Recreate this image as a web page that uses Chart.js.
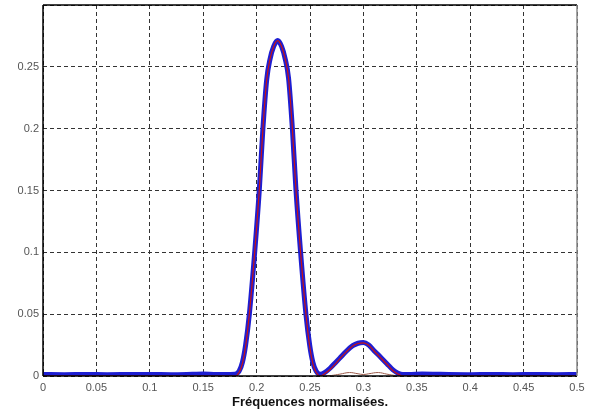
<!DOCTYPE html>
<html>
<head>
<meta charset="utf-8">
<script src="https://cdn.jsdelivr.net/npm/chart.js@4/dist/chart.umd.min.js"></script>
<style>
  html, body { margin: 0; padding: 0; background: #fff; }
  #wrap { width: 592px; height: 412px; }
</style>
</head>
<body>
<div id="wrap"><canvas id="spectre"></canvas></div>
<script>
// ------ DONNEES ------
const freq = [
  0, 0.02, 0.04, 0.06, 0.08, 0.10, 0.12, 0.14, 0.15, 0.16, 0.17, 0.1797,
  0.1837, 0.1867, 0.1897, 0.1932, 0.1982, 0.2025, 0.2059, 0.2095, 0.2125, 0.2160, 0.2197,
  0.2234, 0.2269, 0.2299, 0.2335, 0.2369, 0.2412, 0.2462, 0.2497, 0.2527, 0.2557, 0.2595,
  0.264, 0.269, 0.274, 0.278, 0.284, 0.290, 0.295, 0.300, 0.305, 0.310, 0.3155,
  0.322, 0.3277, 0.332, 0.337, 0.345, 0.355, 0.365, 0.38, 0.40, 0.42, 0.44, 0.46, 0.48, 0.5
];
const estime = [
  0.0012, 0.0011, 0.0013, 0.0011, 0.0012, 0.0013, 0.0011, 0.0014, 0.0016, 0.0013, 0.0012, 0.0014,
  0.004, 0.011, 0.025, 0.05, 0.10, 0.15, 0.20, 0.240, 0.256, 0.2665, 0.2712,
  0.2665, 0.256, 0.241, 0.20, 0.15, 0.10, 0.05, 0.025, 0.011, 0.004, 0.0015,
  0.003, 0.0065, 0.011, 0.0146, 0.020, 0.0245, 0.0265, 0.027, 0.025, 0.0205, 0.0157,
  0.010, 0.0049, 0.0025, 0.0012, 0.0013, 0.0016, 0.0015, 0.0012, 0.0011, 0.0012, 0.0011, 0.0012, 0.0011, 0.0012
];
const reel = [
  0, 0, 0, 0, 0, 0, 0, 0, 0, 0, 0, 0,
  0.003, 0.010, 0.024, 0.05, 0.10, 0.15, 0.20, 0.240, 0.256, 0.2665, 0.2712,
  0.2665, 0.256, 0.241, 0.20, 0.15, 0.10, 0.05, 0.024, 0.010, 0.003, 0,
  0.002, 0.0055, 0.010, 0.0140, 0.0195, 0.0242, 0.0263, 0.0268, 0.0248, 0.0202, 0.0153,
  0.0095, 0.0043, 0.0018, 0, 0, 0, 0, 0, 0, 0, 0, 0, 0, 0
];
const freqBruit = [0.262, 0.270, 0.278, 0.287, 0.295, 0.300, 0.305, 0.314, 0.322, 0.330, 0.338];
const bruit     = [0, 0.0004, 0.0015, 0.0028, 0.0018, 0.0012, 0.0018, 0.0028, 0.0015, 0.0004, 0];
const yTicks = [0, 0.05, 0.1, 0.15, 0.2, 0.25];
const xTicks = [0, 0.05, 0.1, 0.15, 0.2, 0.25, 0.3, 0.35, 0.4, 0.45, 0.5];

const pts = (xs, ys) => xs.map((x, i) => ({ x, y: ys[i] }));

// cadre autour de la zone de tracé
const cadre = {
  id: 'cadre',
  afterDraw(chart) {
    const { ctx, chartArea: a } = chart;
    ctx.save();
    ctx.strokeStyle = '#000';
    ctx.lineWidth = 1.5;
    ctx.beginPath();
    ctx.moveTo(a.left, a.top); ctx.lineTo(a.right, a.top);
    ctx.moveTo(a.left, a.top); ctx.lineTo(a.left, a.bottom);
    ctx.moveTo(a.left, a.bottom); ctx.lineTo(a.right, a.bottom);
    ctx.stroke();
    ctx.strokeStyle = '#888';
    ctx.beginPath();
    ctx.moveTo(a.right, a.top); ctx.lineTo(a.right, a.bottom);
    ctx.stroke();
    ctx.restore();
  }
};

const tickFont = { family: 'Arial, "Liberation Sans", sans-serif', size: 11 };

new Chart(document.getElementById('spectre'), {
  type: 'line',
  data: {
    datasets: [
      {
        label: 'reel',
        data: pts(freq, reel),
        borderColor: '#c81414',
        borderWidth: 1.2,
        pointRadius: 0,
        cubicInterpolationMode: 'monotone',
        order: 1
      },
      {
        label: 'bruit',
        data: pts(freqBruit, bruit),
        borderColor: '#9a5a4a',
        borderWidth: 1,
        pointRadius: 0,
        tension: 0.4,
        order: 3
      },
      {
        label: 'estime',
        data: pts(freq, estime),
        borderColor: '#1e1ed2',
        borderWidth: 5,
        pointRadius: 0,
        cubicInterpolationMode: 'monotone',
        order: 2
      }
    ]
  },
  options: {
    responsive: true,
    maintainAspectRatio: false,
    animation: false,
    layout: { padding: { top: 5, right: 15, left: 0, bottom: 2 } },
    plugins: { legend: { display: false }, tooltip: { enabled: false } },
    scales: {
      x: {
        type: 'linear',
        min: 0, max: 0.5,
        afterBuildTicks: s => { s.ticks = xTicks.map(v => ({ value: v })); },
        afterFit: s => { s.height = 34; },
        grid: { color: '#333', lineWidth: 1, drawTicks: false },
        border: { display: false, dash: [4, 3] },
        ticks: { color: '#555', font: tickFont, padding: 5, maxRotation: 0, callback: v => String(v) },
        title: {
          display: true,
          text: 'Fréquences normalisées.',
          color: '#111',
          font: { family: 'Arial, "Liberation Sans", sans-serif', size: 13, weight: 'bold' },
          padding: { top: 0, bottom: 0 }
        }
      },
      y: {
        min: 0, max: 0.3,
        afterBuildTicks: s => { s.ticks = yTicks.concat([0.3]).map(v => ({ value: v })); },
        afterFit: s => { s.width = 43; s.paddingTop = 0; s.paddingBottom = 0; },
        grid: { color: '#333', lineWidth: 1, drawTicks: false },
        border: { display: false, dash: [4, 3] },
        ticks: { color: '#555', font: tickFont, padding: 4, callback: v => (v >= 0.3 ? '' : String(v)) }
      }
    }
  },
  plugins: [cadre]
});
</script>
</body>
</html>
